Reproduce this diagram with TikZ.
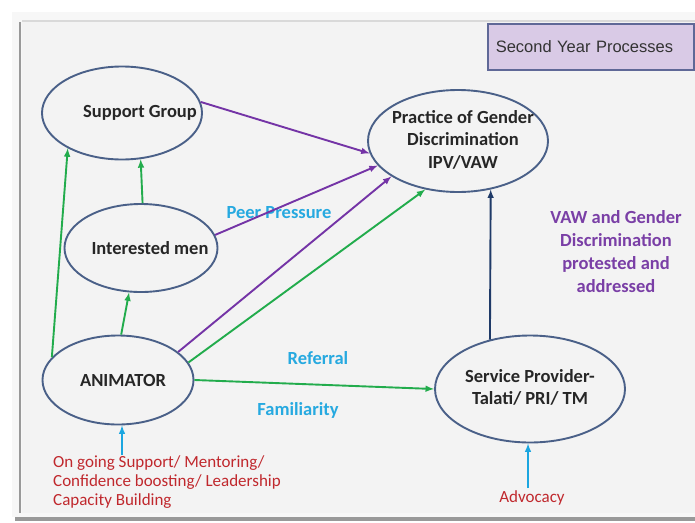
\documentclass[tikz,border=0pt]{standalone}
\usepackage{fontspec}
\setmainfont{Carlito}
\newfontfamily\arialfont{Liberation Sans}
\usepackage{xcolor}
\usetikzlibrary{shapes.geometric}
\definecolor{ovalline}{HTML}{4A6088}
\definecolor{arrowgreen}{HTML}{22AC4C}
\definecolor{arrowpurple}{HTML}{7434A6}
\definecolor{arrownavy}{HTML}{1F3A68}
\definecolor{arrowcyan}{HTML}{1BA6E0}
\definecolor{labelcyan}{HTML}{26A9E0}
\definecolor{labelpurple}{HTML}{7A3FA6}
\definecolor{labelred}{HTML}{C0282D}
\definecolor{boxfill}{HTML}{D9CAE6}
\definecolor{boxline}{HTML}{5F6897}
\definecolor{panelgray}{HTML}{F3F3F3}

\begin{document}
\begin{tikzpicture}[x=1pt,y=-1pt,
	oval/.style={ellipse,draw=ovalline,line width=1.9pt,inner sep=0pt,text=black!85,font=\bfseries\fontsize{18.5}{22.5}\selectfont},
	greenarrow/.style={-latex,draw=arrowgreen,line width=1.9pt},
	purplearrow/.style={-latex,draw=arrowpurple,line width=1.9pt},
	navyarrow/.style={-latex,draw=arrownavy,line width=1.9pt},
	cyanarrow/.style={-latex,draw=arrowcyan,line width=1.9pt},
	cyantext/.style={text=labelcyan,inner sep=0pt,font=\bfseries\fontsize{18.5}{20}\selectfont},
	purpletext/.style={text=labelpurple,inner sep=0pt,align=center,font=\bfseries\fontsize{18.5}{23}\selectfont},
	redtext/.style={text=labelred,inner sep=0pt,font=\fontsize{17}{19}\selectfont}]
	\useasboundingbox (0,0) rectangle (695,522);
	% panel with shadow
	\fill[white] (0,0) rectangle (695,522);
	\fill[black!40] (15,18) rectangle (695,521);
	\fill[white!97!black] (12,12) rectangle (695,517);
	\fill[panelgray] (22,22) rectangle (695,513);
	\draw[black!40,line width=2pt] (20,22) -- (20,513);
	\draw[black!15,line width=1.5pt] (22,21) -- (695,21);
	% year box
	\node[draw=boxline,fill=boxfill,line width=1.5pt,anchor=north west,minimum height=46pt,text width=190pt,inner xsep=8pt,align=left,text=black!80,font=\arialfont\fontsize{16.5}{19}\selectfont] (year) at (487,23) {Second Year Processes};
	% ovals
	\node[oval,minimum width=160pt,minimum height=93pt] (sg) at (122,113) {\makebox[0pt]{\hspace*{36pt}Support Group}};
	\node[oval,minimum width=153pt,minimum height=88pt] (im) at (141,248) {\makebox[0pt]{\hspace*{18pt}Interested men}};
	\node[oval,minimum width=151pt,minimum height=89pt] (an) at (118,380) {\makebox[0pt]{\hspace*{10pt}ANIMATOR}};
	\node[oval,minimum width=180pt,minimum height=102pt] (pr) at (458,141) {\makebox[0pt]{\hspace*{10pt}\begin{tabular}{@{}c@{}}Practice of Gender\\Discrimination\\IPV/VAW\end{tabular}}};
	\node[oval,minimum width=190pt,minimum height=107pt] (sp) at (530,389) {\makebox[0pt]{\begin{tabular}{@{}c@{}}Service Provider-\\Talati/ PRI/ TM\end{tabular}}};
	% labels
	\node[cyantext] (peer) at (279,213) {Peer Pressure};
	\node[cyantext] (refl) at (318,358) {Referral};
	\node[cyantext] (fam) at (298,410) {Familiarity};
	\node[purpletext] (vaw) at (616,252) {VAW and Gender\\Discrimination\\protested and\\addressed};
	\node[redtext,align=left,anchor=west] (ongo) at (53,482) {On going Support/ Mentoring/\\Confidence boosting/ Leadership\\Capacity Building};
	\node[redtext] (adv) at (532,498) {Advocacy};
	\coordinate (anfoot) at (122,455);
	\coordinate (spfoot) at (528,488);
	% connectors
	\draw[greenarrow] (an.161) -- (sg.213);
	\draw[greenarrow] (im.88) -- (sg.292);
	\draw[greenarrow] (an.86) -- (im.255);
	\draw[purplearrow] (sg.8) -- (pr.188);
	\draw[purplearrow] (im.10) -- (pr.197);
	\draw[purplearrow] (an.25) -- (pr.208);
	\draw[greenarrow] (an.14) -- (pr.236);
	\draw[greenarrow] (an.0) -- (sp.180);
	\draw[navyarrow] (sp.129.5) -- (pr.304);
	\draw[cyanarrow] (anfoot) -- (anfoot |- an.south);
	\draw[cyanarrow] (spfoot) -- (spfoot |- sp.south);
\end{tikzpicture}
\end{document}
